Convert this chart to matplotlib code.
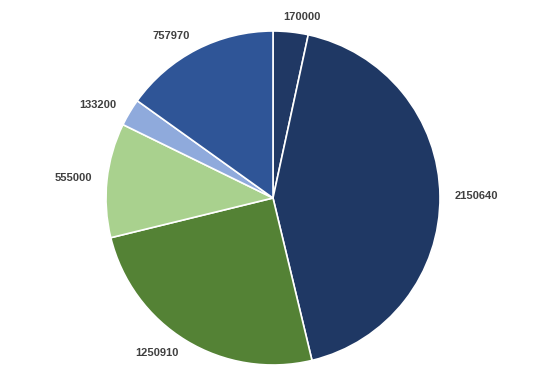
import numpy as np
import matplotlib.pyplot as plt

values = [170000, 2150640, 1250910, 555000, 133200, 757970]
labels = [str(v) for v in values]
colors = ['#203864', '#1F3864', '#548235', '#A9D18E', '#8FAADC', '#2F5597']

W, H = 540, 390
cx, cy, r_px = 273, 198, 167
lim = 1.15

fig = plt.figure(figsize=(W / 100, H / 100), dpi=100)
ax_w = 2 * lim * r_px
ax = fig.add_axes([(cx - ax_w / 2) / W, 1 - (cy + ax_w / 2) / H, ax_w / W, ax_w / H])

wedges, _ = ax.pie(values, colors=colors, startangle=90, counterclock=False,
                   wedgeprops=dict(edgecolor='white', linewidth=1.2))
ax.set_xlim(-lim, lim)
ax.set_ylim(-lim, lim)
ax.set_aspect('equal')
ax.axis('off')

# labels just outside the slices
for w, lab in zip(wedges, labels):
    ang = np.deg2rad((w.theta1 + w.theta2) / 2)
    x, y = np.cos(ang), np.sin(ang)
    d = 1.09
    if abs(x) < 0.2:
        ha = 'center'
        x_off = 0.06
    else:
        ha = 'left' if x > 0 else 'right'
        x_off = 0
    ax.text(d * x + x_off, d * y, lab, ha=ha, va='center', fontsize=8,
            fontweight='bold', color='#404040', family='Liberation Sans')

fig.savefig('out.png', dpi=100)
